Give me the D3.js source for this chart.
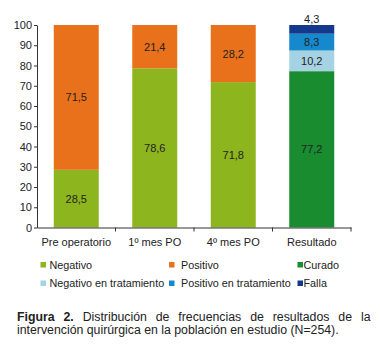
<!DOCTYPE html>
<html>
<head>
<meta charset="utf-8">
<script src="https://cdn.jsdelivr.net/npm/d3@7"></script>
<style>
  body { margin: 0; background: #fff; }
  svg { display: block; font-family: "Liberation Sans", Arial, sans-serif; }
</style>
</head>
<body>
<svg id="chart" width="380" height="349"></svg>
<script>
//  data
const categories = ["Pre operatorio", "1º mes PO", "4º mes PO", "Resultado"];
const negativo = [28.5, 78.6, 71.8, 0];
const positivo = [71.5, 21.4, 28.2, 0];
const curado = [0, 0, 0, 77.2];
const negativoTrat = [0, 0, 0, 10.2];
const positivoTrat = [0, 0, 0, 8.3];
const falla = [0, 0, 0, 4.3];
const yTicks = [0, 10, 20, 30, 40, 50, 60, 70, 80, 90, 100];
const seriesNames = ["Negativo", "Positivo", "Curado", "Negativo en tratamiento", "Positivo en tratamiento", "Falla"];
const captionBold = "Figura 2.";
const captionLine1 = "Distribución de frecuencias de resultados de la";
const captionLine2 = "intervención quirúrgica en la población en estudio (N=254).";

const colors = {
  "Negativo": "#8db51d",
  "Positivo": "#e9711b",
  "Curado": "#188c2f",
  "Negativo en tratamiento": "#a6d3e3",
  "Positivo en tratamiento": "#1689cd",
  "Falla": "#14388b"
};

const values = [negativo, positivo, curado, negativoTrat, positivoTrat, falla];
const rows = categories.map((c, i) => {
  const r = {cat: c};
  seriesNames.forEach((s, j) => r[s] = values[j][i]);
  return r;
});

const svg = d3.select("#chart");
const plotLeft = 37, plotRight = 351, plotTop = 25, plotBottom = 227.5;

const x = d3.scaleBand().domain(categories).range([plotLeft, plotRight]).paddingInner(0.427).paddingOuter(0.2135);
const y = d3.scaleLinear().domain([0, 100]).range([plotBottom, plotTop]);
const fmt = v => d3.format(".1f")(v).replace(".", ",");

const stacked = d3.stack().keys(seriesNames)(rows);

//  draw bars
stacked.forEach(layer => {
  const key = layer.key;
  svg.append("g").selectAll("rect")
    .data(layer.filter(d => d[1] - d[0] > 0)).enter().append("rect")
    .attr("x", d => x(d.data.cat))
    .attr("y", d => y(d[1]))
    .attr("width", x.bandwidth())
    .attr("height", d => y(d[0]) - y(d[1]))
    .attr("fill", colors[key]);

  //  value labels, thin top segment gets its label above the bar
  svg.append("g").selectAll("text")
    .data(layer.filter(d => d[1] - d[0] > 0)).enter().append("text")
    .attr("x", d => x(d.data.cat) + x.bandwidth() / 2)
    .attr("y", d => (d[1] - d[0] < 5 ? y(d[1]) - 6 : y((d[0] + d[1]) / 2)) + 4)
    .attr("text-anchor", "middle")
    .style("font-size", "11px")
    .style("fill", "#222")
    .text(d => fmt(d[1] - d[0]));
});

//  y axis
const yAxis = svg.append("g")
  .attr("transform", "translate(" + plotLeft + ",0)")
  .call(d3.axisLeft(y).tickValues(yTicks).tickSize(3).tickSizeOuter(0).tickPadding(2));
yAxis.selectAll("text").style("font-size", "11px").style("fill", "#222").style("font-family", "Liberation Sans, Arial, sans-serif");
yAxis.selectAll("line, path").attr("stroke", "#333");

//  x axis: labels without ticks, ticks on category boundaries
const xAxis = svg.append("g")
  .attr("transform", "translate(0," + plotBottom + ")")
  .call(d3.axisBottom(x).tickSize(0).tickPadding(11).tickSizeOuter(0));
xAxis.selectAll("text").style("font-size", "11px").style("fill", "#222").style("font-family", "Liberation Sans, Arial, sans-serif");
xAxis.select("path").attr("stroke", "#333");
xAxis.selectAll(".bound")
  .data(d3.range(1, categories.length + 1)).enter().append("line")
  .attr("x1", i => plotLeft + i * x.step())
  .attr("x2", i => plotLeft + i * x.step())
  .attr("y1", 0).attr("y2", 4)
  .attr("stroke", "#333");

//  legend
const legCols = [40.5, 169, 297.5];
const legTextOff = [9, 12, 6];
const legRows = [264.5, 283];
seriesNames.forEach((s, i) => {
  const col = i % 3, row = Math.floor(i / 3);
  svg.append("rect")
    .attr("x", legCols[col]).attr("y", legRows[row] - 2.5)
    .attr("width", 5.5).attr("height", 5.5)
    .attr("fill", colors[s]);
  svg.append("text")
    .attr("x", legCols[col] + legTextOff[col]).attr("y", legRows[row] + 4)
    .style("font-size", "10.8px").style("fill", "#222")
    .text(s);
});

//  caption, first line justified
const capX = 17, capRight = 370.5;
const l1 = svg.append("text").attr("x", capX).attr("y", 320.5).style("font-size", "12.3px").style("fill", "#222");
l1.append("tspan").style("font-weight", "bold").text(captionBold);
l1.append("tspan").text(" " + captionLine1);
const natural = l1.node().getComputedTextLength();
const spaces = (captionBold + " " + captionLine1).split(" ").length - 1;
l1.style("word-spacing", ((capRight - capX - natural) / spaces) + "px");

svg.append("text").attr("x", capX).attr("y", 333.5).style("font-size", "12.3px").style("fill", "#222")
  .text(captionLine2);
</script>
</body>
</html>
